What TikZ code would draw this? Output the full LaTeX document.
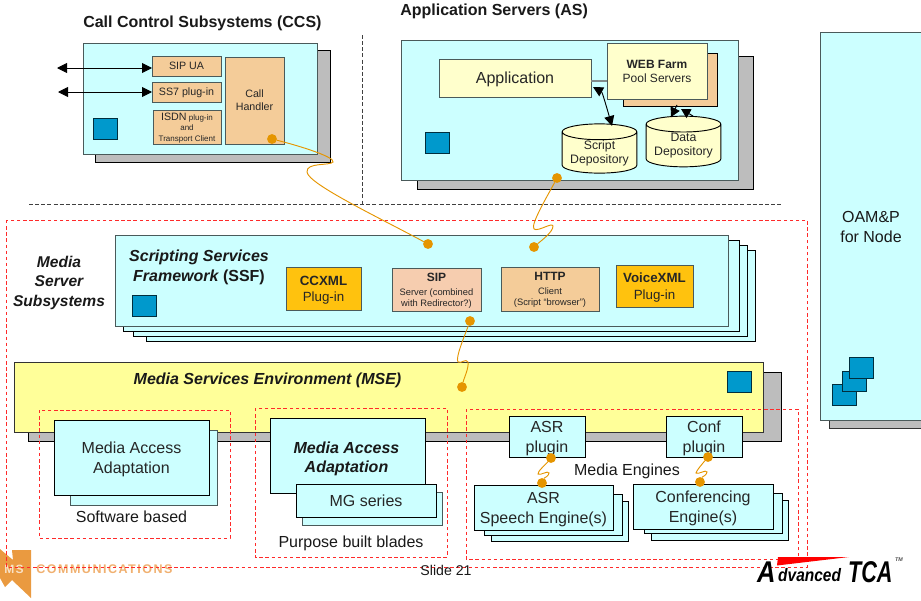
\documentclass[tikz,border=0pt]{standalone}
\usepackage{fontspec}
\setmainfont{Liberation Sans}
\newfontfamily\spacedfont[LetterSpace=12]{Liberation Sans}
\usetikzlibrary{arrows.meta,shapes.geometric}
\definecolor{cyanbox}{HTML}{CCFFFF}
\definecolor{tanbox}{HTML}{F4CC99}
\definecolor{sipbox}{HTML}{F6CDAF}
\definecolor{paleyellow}{HTML}{FFFFCC}
\definecolor{mseyellow}{HTML}{FFFF99}
\definecolor{goldbox}{HTML}{FFC20E}
\definecolor{bluesq}{HTML}{0099CC}
\definecolor{shadowgray}{HTML}{BDBDBD}
\definecolor{edgegray}{HTML}{4A5A5A}
\definecolor{dotorange}{HTML}{E59500}
\definecolor{logoorange}{HTML}{EA9A40}
\definecolor{logotext}{HTML}{F0B070}
\definecolor{dashred}{HTML}{FF2A2A}
\newcommand{\fs}[1]{\fontsize{#1}{#1}\selectfont}
\tikzset{
  x=0.75pt,y=-0.75pt,
  base/.style={inner sep=0pt,outer sep=0pt,line width=0.7pt,align=center,font=\fs{9},text=black!85,text depth=0pt},
  box/.style={base,draw=edgegray,fill=cyanbox},
  blackbox/.style={base,draw=black,fill=cyanbox},
  shadowbox/.style={base,draw=black,fill=shadowgray},
  tan/.style={base,draw=edgegray,fill=tanbox},
  palebox/.style={base,draw=edgegray,fill=paleyellow},
  goldy/.style={base,draw=edgegray,fill=goldbox,font=\fs{10},text depth=-1pt},
  sq/.style={base,draw=black!70!bluesq,fill=bluesq},
  dot/.style={circle,fill=dotorange,draw=none,minimum size=7.4pt,inner sep=0pt,outer sep=0pt},
  wire/.style={draw=dotorange,line width=0.7pt},
  redbox/.style={draw=dashred,line width=0.6pt,dash pattern=on 2.6pt off 2pt},
  graydash/.style={draw=black!75,line width=0.6pt,dash pattern=on 3pt off 1.6pt},
  dbl/.style={{Triangle[length=7.5pt,width=7.5pt]}-{Triangle[length=7.5pt,width=7.5pt]},line width=0.7pt,draw=black},
  cyl/.style={base,shape=cylinder,shape border rotate=90,aspect=0.27,draw=black,fill=paleyellow,cylinder uses custom fill,cylinder body fill=paleyellow,cylinder end fill=paleyellow,anchor=shape center,font=\fs{9.2},text depth=1.6pt},
  title/.style={inner sep=0pt,font=\fs{12}\bfseries,text=black!90,text depth=0pt},
  lbl/.style={inner sep=0pt,align=center,text=black!90,font=\fs{12},text depth=0pt},
}
\newcommand{\bx}[7]{\node[#2,anchor=north west,minimum width={(#5-#3)*0.75pt},minimum height={(#6-#4)*0.75pt}] (#1) at (#3,#4) {#7};}
\begin{document}
\begin{tikzpicture}
\useasboundingbox (0,0) rectangle (921,600);
% logo left (under the red frame)
\fill[logoorange] (0,549) -- (13,560) -- (12,550) -- (31,550) -- (31,598) -- (12,580) -- (5,587) -- (0,578) -- cycle;
\node[inner sep=0pt,text=white!70!logoorange,font=\fs{9}\bfseries\spacedfont] (logoms) at (14,569) {MS};
\node[inner sep=0pt,anchor=west,text=logotext,font=\fs{9.4}\bfseries\spacedfont] (logocomm) at (36,569) {COMMUNICATIONS};
% CCS
\node[title,anchor=west] (ccstitle) at (83,22) {Call Control Subsystems (CCS)};
\bx{ccsb}{shadowbox}{95}{50}{330}{162}{}
\bx{ccs}{box}{83}{43}{317}{154}{}
\bx{sipua}{tan,font=\fs{8}}{152}{56}{221}{76}{SIP UA}
\bx{ss7}{tan,font=\fs{8}}{152}{82}{221}{102}{SS7 plug-in}
\bx{isdn}{tan,font=\fs{6}}{153}{110}{221}{144}{{\fs{8}ISDN} plug-in\\[2pt]and\\[1.8pt]Transport Client}
\bx{call}{tan,font=\fs{8}}{225}{57}{284}{144}{Call\\[1.7pt]Handler}
\bx{ccssq}{sq}{93}{118}{117}{139}{}
\coordinate (sipfree) at (57,68);
\coordinate (ss7free) at (58,92);
\draw[dbl] (sipfree) -- (sipua.west |- sipfree);
\draw[dbl] (ss7free) -- (ss7.west |- ss7free);
% dividers
\coordinate (hl) at (29,204); \coordinate (hr) at (782,204);
\coordinate (vt) at (362,35); \coordinate (vb) at (362,204);
\draw[graydash] (hl) -- (hr);
\draw[graydash] (vt) -- (vb);
% AS
\node[title,anchor=west] (astitle) at (400,10) {Application Servers (AS)};
\bx{asb}{shadowbox}{417}{56}{753}{189}{}
\bx{as}{box}{401}{40}{738}{180}{}
\bx{app}{palebox,font=\fs{12}}{439}{59}{591}{97}{Application}
\bx{webb}{tan,draw=black}{623}{53}{717}{106}{}
\bx{web}{palebox}{607}{43}{707}{99}{\textbf{WEB Farm}\\[1.5pt]Pool Servers}
\coordinate (appline) at (591,81);
\coordinate (webline) at (607,81);
\draw[draw=edgegray!70,line width=0.8pt] (appline) -- (webline);
\node[cyl,minimum width=56pt,minimum height=34pt] (script) at (599.5,148.5) {Script\\[1.3pt]Depository};
\node[cyl,minimum width=56pt,minimum height=38pt] (data) at (683.5,141.5) {Data\\[1.3pt]Depository};
\coordinate (appa) at (593,87);
\coordinate (scra) at (612,126);
\draw[dbl] (appa) .. controls (602,92) and (604,98) .. (scra);
\coordinate (da1) at (671,117); \coordinate (da1b) at (677,105);
\coordinate (da2) at (693,116); \coordinate (da2b) at (681,109);
\draw[-{Triangle[length=7pt,width=7.5pt]},line width=0.7pt] (da1b) -- (da1);
\draw[{Triangle[length=7pt,width=7.5pt]}-,line width=0.7pt] (da2b) -- (da2);
\bx{assq}{sq}{425}{132}{449}{153}{}
% OAM
\bx{oamb}{base,draw=black!80,fill=shadowgray}{829}{60}{940}{428}{}
\bx{oam}{box}{820}{32}{940}{420}{}
\node[lbl] (oamt) at (871,227) {OAM\&P\\[3pt]for Node};
\bx{oam1}{sq}{832}{384}{856}{405}{}
\bx{oam2}{sq}{842}{371}{866}{391}{}
\bx{oam3}{sq}{849}{357}{873}{378}{}
% Outer red
\draw[redbox] (6,220) rectangle (807,567);
% SSF
\bx{ssf4}{blackbox}{146}{250}{755}{341}{}
\bx{ssf3}{blackbox}{133}{245}{747}{336}{}
\bx{ssf2}{blackbox}{123}{240}{739}{331}{}
\bx{ssf}{box}{115}{235}{728}{326}{}
\node[lbl,font=\fs{11.7}\bfseries\itshape] (mss) at (59,281) {Media\\[2.9pt]Server\\[2.9pt]Subsystems};
\node[lbl,font=\fs{12}\bfseries] (ssft) at (199,266) {\itshape Scripting Services\\[3pt]{\itshape Framework} (SSF)};
\bx{ssfsq}{sq}{132}{295}{156}{316}{}
\bx{ccxml}{goldy}{286}{267}{361}{310}{\textbf{CCXML}\\[2pt]Plug-in}
\bx{sip}{base,draw=edgegray,fill=sipbox,font=\fs{7}}{392}{268}{481}{311}{{\fs{9}\bfseries SIP}\\[3.5pt]Server (combined\\[1.3pt]with Redirector?)}
\bx{http}{tan,font=\fs{7}}{501}{267}{599}{311}{{\fs{9}\bfseries HTTP}\\[3pt]Client\\[1.3pt](Script “browser”)}
\bx{vxml}{goldy}{616}{265}{693}{307}{\textbf{VoiceXML}\\[2.5pt]Plug-in}
% MSE
\bx{mseb}{shadowbox}{28}{372}{781}{441}{}
\bx{mse}{base,draw=black!80,fill=mseyellow}{14}{362}{763}{432}{}
\node[lbl,font=\fs{12}\bfseries\itshape] (mset) at (267.5,379) {Media Services Environment (MSE)};
\bx{msesq}{sq}{727}{371}{751}{392}{}
% Software based
\bx{swb}{box}{70}{430}{217}{505}{}
\bx{sw}{blackbox,font=\fs{12}}{54}{420}{209}{495}{Media Access\\[2.6pt]Adaptation}
\draw[redbox] (39,410) rectangle (230,538);
\node[lbl] (swl) at (131.5,517) {Software based};
% Purpose built
\bx{pb}{blackbox}{270}{418}{425}{493}{}
\node[lbl,font=\fs{12}\bfseries\itshape] (pbt) at (346.5,457) {Media Access\\[2.6pt]Adaptation};
\bx{mgb}{box}{302}{492}{442}{525}{}
\bx{mg}{blackbox,font=\fs{12}}{296}{484}{436}{517}{MG series}
\draw[redbox] (255,408) rectangle (447,557);
\node[lbl] (pbl) at (351,542) {Purpose built blades};
% Media engines
\bx{asr3}{blackbox}{491}{501}{628}{541}{}
\bx{asr2}{blackbox}{484}{494}{622}{535}{}
\bx{asr}{blackbox,font=\fs{12},text depth=-2pt}{474}{485}{613}{530}{ASR\\[3pt]Speech Engine(s)}
\bx{con3}{blackbox}{651}{500}{788}{540}{}
\bx{con2}{blackbox}{644}{493}{782}{533}{}
\bx{con}{blackbox,font=\fs{12},text depth=-2pt}{633}{484}{773}{529}{Conferencing\\[3pt]Engine(s)}
\bx{asrp}{blackbox,font=\fs{12},text depth=-1.5pt}{509}{416}{585}{457}{ASR\\[3pt]plugin}
\bx{conp}{blackbox,font=\fs{12},text depth=-1.5pt}{666}{416}{742}{457}{Conf\\[3pt]plugin}
\draw[redbox] (466,409) rectangle (798,559);
\node[lbl] (mel) at (627,470) {Media Engines};
% Slide
\node[lbl,font=\fs{10.6}] (slide) at (446,570) {Slide 21};
% dots
\node[dot] (dcall) at (272,139) {};
\node[dot] (dsipt) at (428,244) {};
\node[dot] (das) at (557,178) {};
\node[dot] (dhttp) at (534,247) {};
\node[dot] (dsipb) at (470,321) {};
\node[dot] (dmse) at (462,387) {};
\node[dot] (dasr) at (551,458) {};
\node[dot] (dasre) at (542,483) {};
\node[dot] (dcon) at (708,457) {};
\node[dot] (dcone) at (700,482) {};
% wires
\draw[wire] (dcall) .. controls (300,146) and (335,157) .. (333,162) .. controls (330,166) and (306,162) .. (307,172) .. controls (308,184) and (380,218) .. (dsipt);
\draw[wire] (das) .. controls (548,195) and (530,225) .. (534,229) .. controls (538,232) and (552,222) .. (553,226) .. controls (553,232) and (542,240) .. (dhttp);
\draw[wire] (dsipb) .. controls (465,335) and (455,358) .. (458,362) .. controls (461,364) and (466,358) .. (468,362) .. controls (469,368) and (464,378) .. (dmse);
\draw[wire] (dasr) .. controls (546,464) and (537,472) .. (538,474) .. controls (540,476) and (548,470) .. (549,473) .. controls (549,476) and (544,478) .. (dasre);
\draw[wire] (dcon) .. controls (703,463) and (696,471) .. (696,473) .. controls (698,475) and (706,469) .. (707,472) .. controls (707,475) and (702,477) .. (dcone);
% AdvancedTCA logo
\fill[red] (778,557) -- (849,557) -- (777,565.5) -- cycle;
\node[inner sep=0pt,anchor=base west,text=black,font=\fs{22.5}\bfseries\itshape,xscale=0.85,transform shape] (logoa) at (757,582) {A};
\node[inner sep=0pt,anchor=base west,text=black,font=\fs{13.5}\bfseries\itshape,xscale=0.86,transform shape] (logoadv) at (778,581) {dvanced};
\node[inner sep=0pt,anchor=base west,text=black,font=\fs{22.5}\bfseries\itshape,xscale=0.72,transform shape] (logotca) at (848,582) {TCA};
\node[inner sep=0pt,text=black!70,font=\fs{4}\bfseries\itshape] (logotm) at (899,560) {TM};
\end{tikzpicture}
\end{document}
